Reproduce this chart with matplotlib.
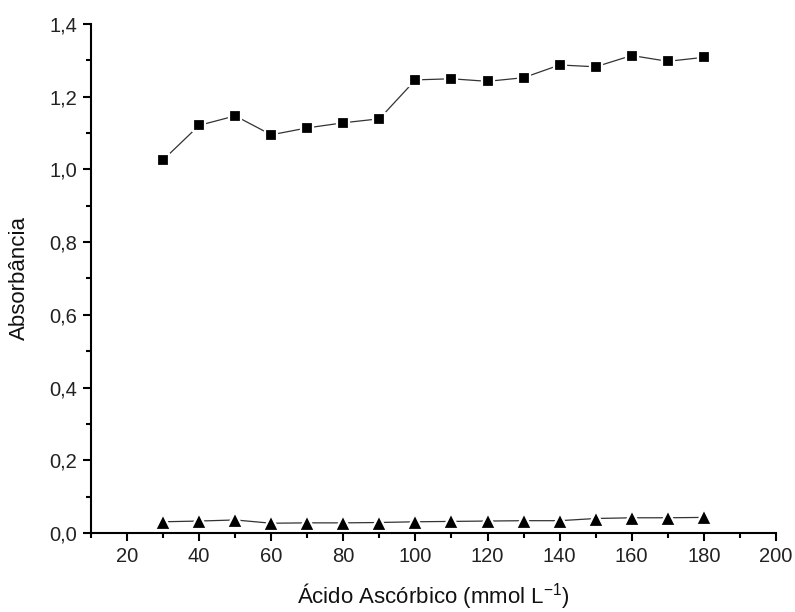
import numpy as np
import matplotlib
matplotlib.use('Agg')
import matplotlib.pyplot as plt
from matplotlib.ticker import MultipleLocator, FuncFormatter

# concentrações de ácido ascórbico (mmol/L)
conc = [30, 40, 50, 60, 70, 80, 90, 100, 110, 120, 130, 140, 150, 160, 170, 180]
# absorbância - série superior (quadrados)
abs_quad = [1.026, 1.121, 1.147, 1.095, 1.114, 1.128, 1.139, 1.246, 1.249, 1.242,
            1.252, 1.287, 1.282, 1.313, 1.297, 1.308]
# absorbância - série inferior (triângulos)
abs_tri = [0.031, 0.033, 0.036, 0.027, 0.028, 0.028, 0.029, 0.031, 0.032, 0.033,
           0.034, 0.034, 0.040, 0.042, 0.042, 0.043]

plt.rcParams['font.family'] = ['Liberation Sans', 'DejaVu Sans']

fig = plt.figure(figsize=(7.95, 6.12), dpi=100)
ax = fig.add_axes([0.1145, 0.129, 0.8615, 0.832])

# linhas finas com marcadores (contorno branco para imitar o espaço do Origin)
for y, mk, ms in [(abs_quad, 's', 8.5), (abs_tri, '^', 11)]:
    ax.plot(conc, y, color='#333333', linewidth=0.9, marker=mk, markersize=ms,
            markerfacecolor='black', markeredgecolor='white', markeredgewidth=1.6)

ax.set_xlim(10, 200)
ax.set_ylim(0, 1.4)

ax.xaxis.set_major_locator(MultipleLocator(20))
ax.xaxis.set_minor_locator(MultipleLocator(10))
ax.yaxis.set_major_locator(MultipleLocator(0.2))
ax.yaxis.set_minor_locator(MultipleLocator(0.1))
ax.yaxis.set_major_formatter(FuncFormatter(lambda v, p: ('%.1f' % v).replace('.', ',')))

# o 10 do eixo x não tem rótulo
ax.set_xticks([20, 40, 60, 80, 100, 120, 140, 160, 180, 200])

for s in ['top', 'right']:
    ax.spines[s].set_visible(False)
for s in ['left', 'bottom']:
    ax.spines[s].set_linewidth(1.5)

ax.tick_params(which='major', direction='out', length=6, width=1.5, labelsize=14.5, pad=4,
               labelcolor='#222222')
ax.tick_params(which='minor', direction='out', length=3.5, width=1.5)

ax.set_xlabel('Ácido Ascórbico (mmol L$^{\\mathregular{-1}}$)', fontsize=16, labelpad=11,
              color='#111111')
ax.set_ylabel('Absorbância', fontsize=16, labelpad=14, color='#111111')

fig.savefig('out.png', dpi=100)
